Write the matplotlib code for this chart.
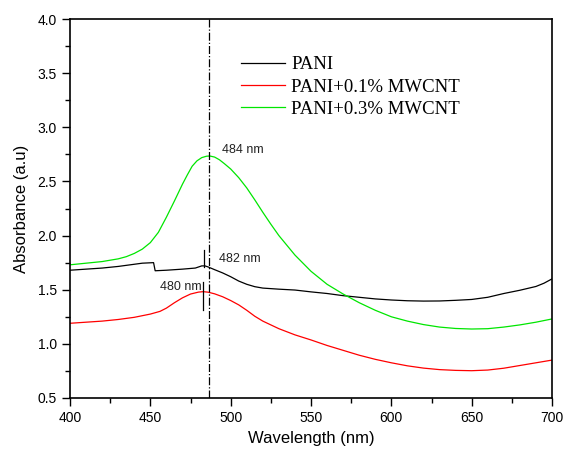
import matplotlib
matplotlib.use("Agg")
import matplotlib.pyplot as plt
from matplotlib.ticker import MultipleLocator

# 数据：吸收光谱
wl_green = [400, 410, 420, 430, 435, 440, 445, 450, 455, 460, 465, 470, 473, 476, 479, 482, 485, 487,
            490, 493, 496, 500, 505, 510, 515, 520, 525, 530, 540, 550, 560, 570, 580, 590, 600,
            610, 620, 630, 640, 650, 660, 670, 680, 690, 700]
abs_green = [1.73, 1.745, 1.76, 1.785, 1.805, 1.835, 1.875, 1.935, 2.03, 2.17, 2.32, 2.475, 2.56, 2.64, 2.69, 2.72, 2.733, 2.735,
             2.725, 2.70, 2.665, 2.615, 2.535, 2.44, 2.33, 2.215, 2.105, 2.00, 1.82, 1.67, 1.55, 1.46, 1.38, 1.31, 1.25,
             1.21, 1.178, 1.155, 1.142, 1.137, 1.14, 1.155, 1.175, 1.20, 1.23]

wl_black = [400, 410, 420, 430, 440, 445, 452, 453, 460, 470, 478, 482, 484, 486, 490,
            495, 500, 505, 510, 515, 520, 530, 540, 550, 560, 570, 580, 590, 600,
            610, 620, 630, 640, 650, 660, 670, 680, 690, 695, 700]
abs_black = [1.68, 1.69, 1.70, 1.715, 1.735, 1.745, 1.75, 1.675, 1.68, 1.69, 1.70, 1.72, 1.72, 1.71, 1.685,
             1.655, 1.62, 1.58, 1.55, 1.528, 1.515, 1.505, 1.497, 1.48, 1.465, 1.445, 1.43, 1.415, 1.405,
             1.398, 1.395, 1.396, 1.402, 1.41, 1.43, 1.465, 1.495, 1.53, 1.56, 1.60]

wl_red = [400, 410, 420, 430, 440, 450, 456, 460, 465, 470, 475, 480, 483, 486, 490,
          495, 500, 505, 510, 515, 520, 530, 540, 550, 560, 570, 580, 590, 600,
          610, 620, 630, 640, 650, 660, 670, 680, 690, 700]
abs_red = [1.19, 1.20, 1.21, 1.225, 1.245, 1.275, 1.30, 1.33, 1.38, 1.425, 1.46, 1.478, 1.482, 1.477, 1.462,
           1.435, 1.40, 1.36, 1.31, 1.255, 1.21, 1.14, 1.083, 1.036, 0.985, 0.94, 0.895, 0.857, 0.825,
           0.797, 0.776, 0.762, 0.755, 0.752, 0.758, 0.775, 0.80, 0.825, 0.85]

labels = ['PANI', 'PANI+0.1% MWCNT', 'PANI+0.3% MWCNT']
peak_line = 486.5

plt.rcParams['font.family'] = ['Liberation Sans', 'DejaVu Sans']

fig = plt.figure(figsize=(5.66, 4.55), dpi=100)
ax = fig.add_axes([0.1237, 0.1253, 0.8516, 0.8329])

l1, = ax.plot(wl_black, abs_black, color='black', lw=0.9)
l2, = ax.plot(wl_red, abs_red, color='#ff0000', lw=0.9)
l3, = ax.plot(wl_green, abs_green, color='#00e600', lw=0.9)

# 峰位标记
ax.axvline(peak_line, color='black', lw=0.9, ls='-.')
ax.plot([483.4, 483.4], [1.712, 1.867], color='black', lw=0.9)
ax.plot([483.0, 483.0], [1.313, 1.574], color='black', lw=0.9)
ax.text(494.5, 2.79, '484 nm', fontsize=9, va='center', color='#222222')
ax.text(492.8, 1.783, '482 nm', fontsize=9, va='center', color='#222222')
ax.text(482.0, 1.528, '480 nm', fontsize=9, va='center', ha='right', color='#222222')

ax.set_xlim(400, 700)
ax.set_ylim(0.5, 4.0)
ax.xaxis.set_major_locator(MultipleLocator(50))
ax.xaxis.set_minor_locator(MultipleLocator(25))
ax.yaxis.set_major_locator(MultipleLocator(0.5))
ax.yaxis.set_minor_locator(MultipleLocator(0.25))
ax.yaxis.set_major_formatter(matplotlib.ticker.FormatStrFormatter('%.1f'))
ax.tick_params(which='major', direction='out', length=6, width=1, labelsize=10)
ax.tick_params(which='minor', direction='out', length=3.5, width=1)
for s in ax.spines.values():
    s.set_linewidth(1.2)

ax.set_xlabel('Wavelength (nm)', fontsize=12)
ax.set_ylabel('Absorbance (a.u)', fontsize=12, labelpad=6)

leg = ax.legend([l1, l2, l3], labels, loc='upper left', bbox_to_anchor=(0.34, 0.922),
                frameon=False, prop={'family': 'Liberation Serif', 'size': 13.5},
                handlelength=2.3, handletextpad=0.35, labelspacing=0.28, borderaxespad=0)

fig.savefig('out.png', dpi=100)
